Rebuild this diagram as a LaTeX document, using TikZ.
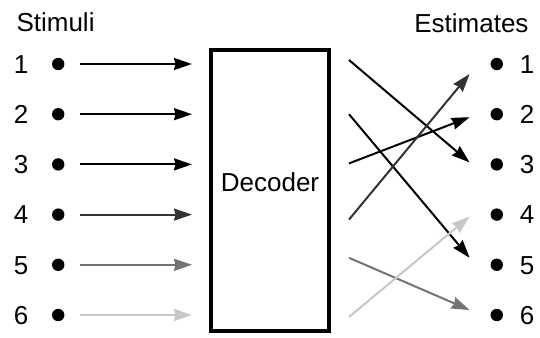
\documentclass[tikz,border=0pt]{standalone}
\usepackage{fontspec}
\setmainfont{Liberation Sans}
\usetikzlibrary{matrix,positioning,calc,arrows.meta}

\definecolor{shadeA}{gray}{0}
\definecolor{shadeB}{gray}{0.2}
\definecolor{shadeC}{gray}{0.45}
\definecolor{shadeD}{gray}{0.78}

\begin{document}
\begin{tikzpicture} [x=1pt, y=-1pt, font=\fontsize{26}{30}\selectfont,
    colmat/.style={matrix of nodes, nodes in empty cells, inner sep=0,
      row sep=0, nodes={anchor=center, inner sep=0, minimum width=14pt,
        minimum height=50.2pt, text height=18.7pt, text depth=0pt}},
    dotcell/.style={path picture={
        \fill (path picture bounding box.center) circle (6.2pt);}},
    arr/.style={line width=2pt, -{Stealth[length=18pt, width=12pt, inset=1.5pt]}}]
  \useasboundingbox (0,0) rectangle (540,337);

  \matrix (stim) [colmat, column sep=23pt] at (39.5,189.5) {
    1 & |[dotcell]| \\
    2 & |[dotcell]| \\
    3 & |[dotcell]| \\
    4 & |[dotcell]| \\
    5 & |[dotcell]| \\
    6 & |[dotcell]| \\
  };
  \matrix (est) [colmat, column sep=16pt] at (512,189.5) {
    |[dotcell]| & 1 \\
    |[dotcell]| & 2 \\
    |[dotcell]| & 3 \\
    |[dotcell]| & 4 \\
    |[dotcell]| & 5 \\
    |[dotcell]| & 6 \\
  };

  \node (stimtitle) [anchor=base west] at (13,32) {Stimuli};
  \node (esttitle) [anchor=base east] at (532,33) {Estimates};

  \node (box) [draw, line width=4pt, minimum width=118pt,
    minimum height=281pt] at (270,190.5) {};
  \node (declabel) at ($(box.center)+(0,-8)$) {Decoder};

  % stimuli into the decoder
  \foreach \i/\c in {1/shadeA, 2/shadeA, 3/shadeA, 4/shadeB, 5/shadeC, 6/shadeD}
    \draw[arr, \c, shorten <=15pt, shorten >=17pt]
      (stim-\i-2) -- (stim-\i-2 -| box.west);

  % decoder out to the estimates
  \foreach \s/\t/\a/\b/\c in {1/3/-4/-2/shadeA, 2/5/0/-7/shadeA,
      3/2/-1/3/shadeA, 4/1/5/10/shadeB, 5/6/-7/-5/shadeC, 6/4/2/2/shadeD} {
    \coordinate (src\s) at ($(box.east |- stim-\s-1)+(18,\a)$);
    \coordinate (dst\t) at ($(est-\t-1.west)+(-20,\b)$);
    \draw[arr, \c] (src\s) -- (dst\t);
  }
\end{tikzpicture}
\end{document}
